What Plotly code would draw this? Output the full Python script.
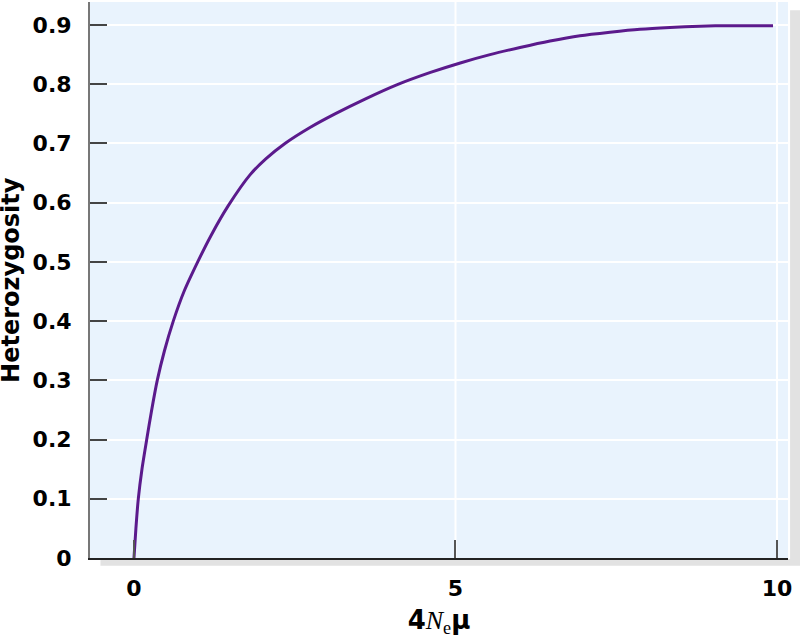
import plotly.graph_objects as go

# Data: theta = 4*Ne*mu, H = heterozygosity
theta = [0.0, 0.030, 0.067, 0.124, 0.198, 0.272, 0.362, 0.474, 0.611,
         0.778, 0.991, 1.205, 1.467, 1.804, 2.050, 2.348, 2.737, 3.126, 3.593, 4.086,
         4.611, 5.074, 5.537, 6.003, 6.470, 6.936, 7.403, 7.869, 8.336, 8.802, 9.269, 9.938]
heterozygosity = [0.0, 0.05, 0.10, 0.15, 0.20, 0.248, 0.30, 0.35, 0.40,
                  0.45, 0.50, 0.546, 0.595, 0.647, 0.674, 0.700, 0.727, 0.750, 0.775, 0.799,
                  0.820, 0.836, 0.850, 0.862, 0.873, 0.882, 0.888, 0.893, 0.896, 0.898, 0.899, 0.899]

x_ticks = [0, 5, 10]
x_grid = [5, 10]
y_ticks = [0, 0.1, 0.2, 0.3, 0.4, 0.5, 0.6, 0.7, 0.8, 0.9]
y_ticktext = ["0", "0.1", "0.2", "0.3", "0.4", "0.5", "0.6", "0.7", "0.8", "0.9"]

BG = "#e9f3fd"
LINE = "#5b1a8c"
FONT = "DejaVu Sans"

fig = go.Figure()
fig.add_trace(go.Scatter(
    x=theta, y=heterozygosity, mode="lines",
    line=dict(color=LINE, width=3, shape="spline", smoothing=0.6),
    hoverinfo="skip", showlegend=False,
))

shapes = []
# vertical white gridlines (only at 5 and 10)
for gx in x_grid:
    shapes.append(dict(type="line", xref="x", yref="paper", x0=gx, x1=gx, y0=0, y1=1,
                       line=dict(color="white", width=2), layer="below"))
# drop shadow right and below
shapes.append(dict(type="rect", xref="paper", yref="paper", x0=1.003, x1=1.03,
                   y0=-0.012, y1=0.985, fillcolor="#e2e2e2", line=dict(width=0), layer="below"))
shapes.append(dict(type="rect", xref="paper", yref="paper", x0=0.015, x1=1.03,
                   y0=-0.014, y1=-0.002, fillcolor="#e2e2e2", line=dict(width=0), layer="below"))

fig.update_layout(
    width=800, height=641,
    margin=dict(l=90, r=12, t=2, b=83),
    paper_bgcolor="white",
    plot_bgcolor=BG,
    shapes=shapes,
    xaxis=dict(
        range=[-0.684, 10.171], tickvals=x_ticks, ticktext=[str(v) for v in x_ticks],
        showgrid=False, zeroline=False,
        showline=True, linecolor="#222", linewidth=2,
        ticks="inside", ticklen=18, tickwidth=2, tickcolor="#555",
        ticklabelstandoff=10,
        tickfont=dict(family=FONT, size=22, color="black", weight="bold"),
        title=dict(
            text="<b>4</b><span style=\"font-family:'Liberation Serif'\"><i>N</i><sub>e</sub></span><b>μ</b>",
            font=dict(family=FONT, size=26, color="black"),
            standoff=10,
        ),
    ),
    yaxis=dict(
        range=[0, 0.9389], tickvals=y_ticks, ticktext=y_ticktext,
        showgrid=True, gridcolor="white", gridwidth=2, zeroline=False,
        showline=True, linecolor="#777", linewidth=2,
        ticks="inside", ticklen=17, tickwidth=2, tickcolor="#444",
        ticklabelstandoff=12,
        tickfont=dict(family=FONT, size=22, color="black", weight="bold"),
    ),
    annotations=[dict(
        text="<b>Heterozygosity</b>", textangle=-90,
        xref="paper", yref="paper", x=-0.1133, y=0.5,
        xanchor="center", yanchor="middle", showarrow=False,
        font=dict(family=FONT, size=24, color="black"),
    )],
)

fig.write_html("out.html")
